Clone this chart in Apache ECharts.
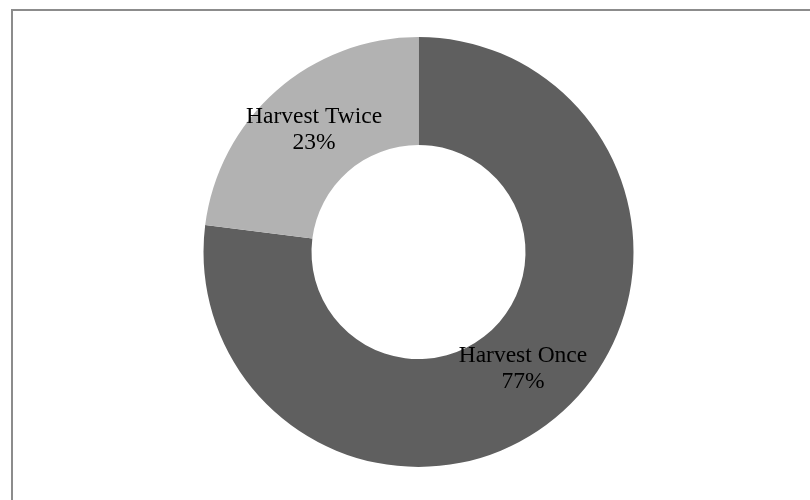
<!DOCTYPE html>
<html>
<head>
<meta charset="utf-8">
<script src="https://cdn.jsdelivr.net/npm/echarts@6/dist/echarts.min.js"></script>
<style>html,body{margin:0;padding:0;background:#fff}#c{width:810px;height:500px}</style>
</head>
<body>
<div id="c"></div>
<script>
const categories = ["Harvest Once", "Harvest Twice"];
const values = [77, 23];
const colors = ["#5f5f5f", "#b2b2b2"];
const labelOffsets = [[-4, -6], [4, 1]];

const chart = echarts.init(document.getElementById('c'), null, {renderer: 'canvas'});
chart.setOption({
  animation: false,
  backgroundColor: '#ffffff',
  graphic: [{
    type: 'rect',
    shape: {x: 12, y: 10, width: 900, height: 600},
    style: {fill: 'none', stroke: '#8c8c8c', lineWidth: 2},
    silent: true
  }],
  series: [{
    type: 'pie',
    center: [418.5, 252],
    radius: [107, 215],
    startAngle: 90,
    clockwise: true,
    avoidLabelOverlap: false,
    itemStyle: {borderWidth: 0},
    emphasis: {disabled: true},
    label: {
      show: true,
      position: 'inside',
      formatter: p => p.name + '\n' + p.percent.toFixed(0) + '%',
      fontFamily: '"Liberation Serif", "Times New Roman", serif',
      fontSize: 23.5,
      lineHeight: 26,
      color: '#000'
    },
    labelLine: {show: false},
    data: categories.map((c, i) => ({name: c, value: values[i], itemStyle: {color: colors[i]}, label: {offset: labelOffsets[i]}}))
  }]
});
</script>
</body>
</html>
